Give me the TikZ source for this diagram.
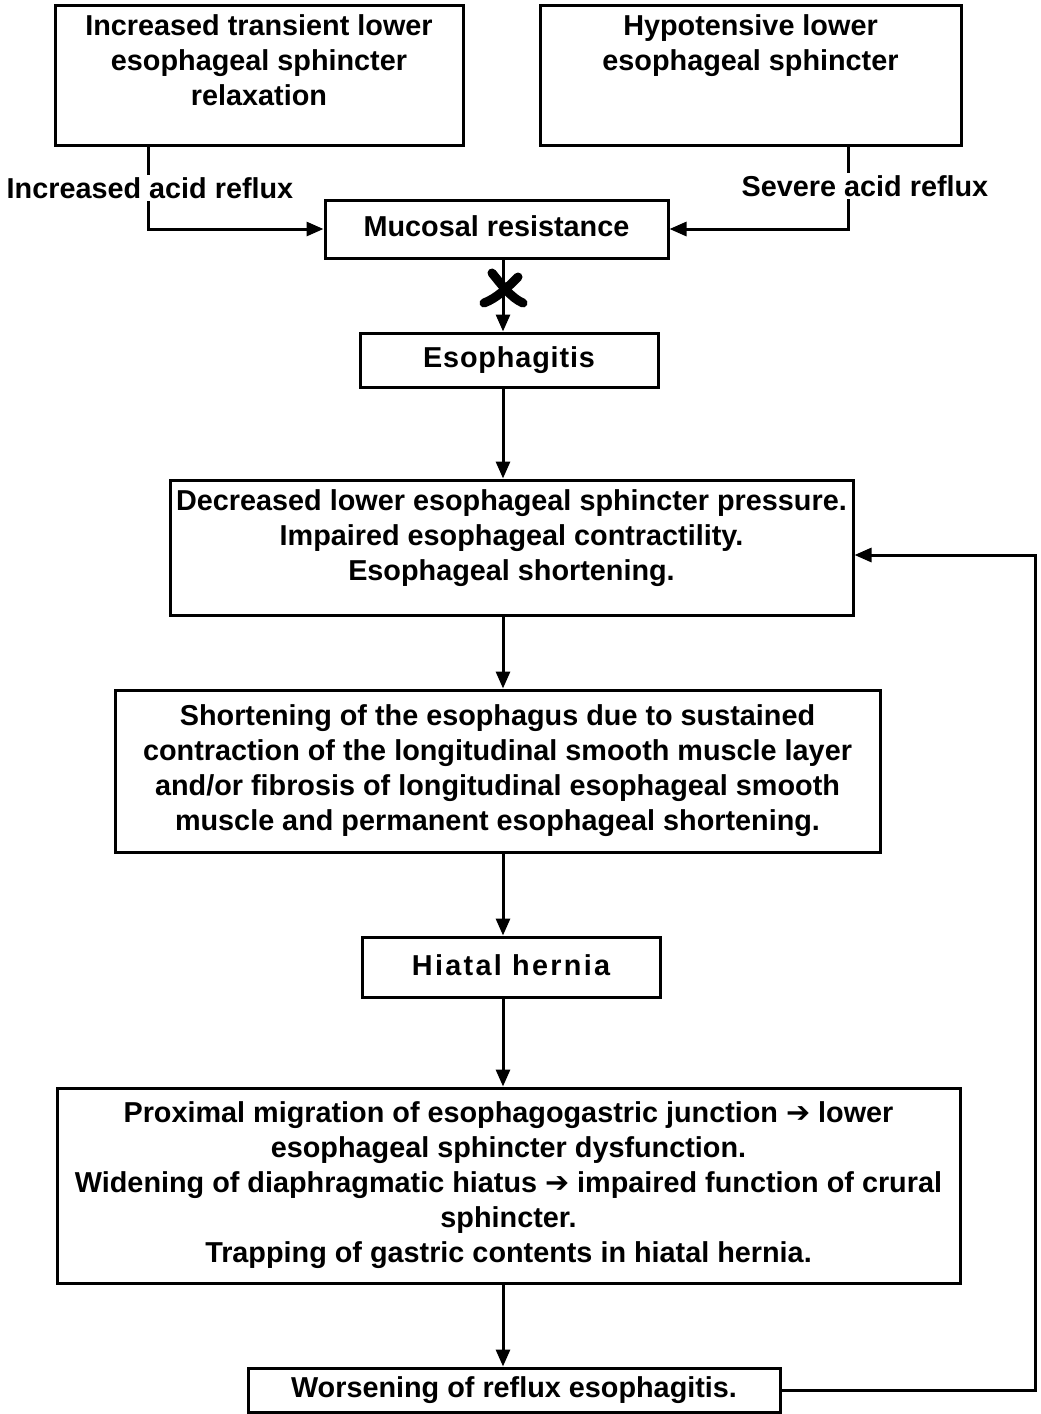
\documentclass[tikz,border=0pt]{standalone}
\usepackage{fontspec}
\setmainfont{Liberation Sans}
\newfontfamily\arrowfont{DejaVu Sans}
\newfontfamily\spacedfont[LetterSpace=3]{Liberation Sans}
\newfontfamily\widefont[LetterSpace=8]{Liberation Sans}
\usetikzlibrary{arrows.meta}
\begin{document}
\begin{tikzpicture}[x=0.5pt,y=-0.5pt,
  font=\bfseries\fontsize{14.4}{17.5}\selectfont,
  box/.style={draw,line width=1.5pt,align=center,inner sep=0pt},
  toptext/.style={anchor=north,align=center,inner xsep=0pt,inner ysep=5.5pt},
  tag/.style={fill=white,inner sep=1pt},
  flow/.style={line width=1.5pt,-{Triangle[length=8.5pt,width=7pt]}},
  xmark/.style={line width=4.5pt,line cap=round}]
\useasboundingbox (0,0) rectangle (1040,1414);
% boxes, top to bottom
\node[box,minimum width=204pt,minimum height=70pt,
  label={[toptext]north:{Increased transient lower\\esophageal sphincter\\relaxation}}] (trelax) at (259,75) {};
\node[box,minimum width=210.5pt,minimum height=70pt,
  label={[toptext]north:{Hypotensive lower\\esophageal sphincter}}] (hypo) at (750.5,75) {};
\node[box,minimum width=171.5pt,minimum height=29pt] (mucosa) at (496.5,229) {\raisebox{2.5pt}{Mucosal resistance}};
\node[box,minimum width=149pt,minimum height=27pt] (esoph) at (509,360) {\raisebox{1.5pt}{\spacedfont Esophagitis}};
\node[box,minimum width=341.5pt,minimum height=67.5pt,
  label={[toptext]north:{Decreased lower esophageal sphincter pressure.\\Impaired esophageal contractility.\\Esophageal shortening.}}] (lespress) at (511.5,547.5) {};
\node[box,minimum width=382.5pt,minimum height=81pt] (shorten) at (497.5,771) {Shortening of the esophagus due to sustained\\contraction of the longitudinal smooth muscle layer\\and/or fibrosis of longitudinal esophageal smooth\\muscle and permanent esophageal shortening.};
\node[box,minimum width=149pt,minimum height=30pt] (hernia) at (511,967) {\raisebox{2pt}{\widefont Hiatal hernia}};
\node[box,minimum width=451.5pt,minimum height=97.5pt] (junction) at (508.5,1185.5) {Proximal migration of esophagogastric junction {\arrowfont ➔} lower\\esophageal sphincter dysfunction.\\Widening of diaphragmatic hiatus {\arrowfont ➔} impaired function of crural\\sphincter.\\Trapping of gastric contents in hiatal hernia.};
\node[box,minimum width=266pt,minimum height=22pt] (worse) at (514,1390) {Worsening of reflux esophagitis.};
% taps and turning points
\coordinate (spine) at (503,0);
\coordinate (ltap) at (148,0);
\coordinate (rtap) at (848,0);
\coordinate (back) at (1035,555);
\coordinate (cut) at (503,290);
\draw[flow] (trelax.south -| ltap) |- (mucosa.west);
\draw[flow] (hypo.south -| rtap) |- (mucosa.east);
\draw[flow] (mucosa.south -| spine) -- (esoph.north -| spine);
\foreach \a/\b in {esoph/lespress,lespress/shorten,shorten/hernia,hernia/junction,junction/worse}
  \draw[flow] (\a.south -| spine) -- (\b.north -| spine);
\draw[flow] (worse.east) -| (back) -- (lespress.east |- back);
\node[tag] (acidup) at (150,188) {Increased acid reflux};
\node[tag] (acidsev) at (865,186) {Severe acid reflux};
% blocked step
\draw[xmark] ([shift={(-11,-17)}]cut) .. controls ([shift={(-2,-6)}]cut) and ([shift={(8,8)}]cut) .. ([shift={(20,13)}]cut);
\draw[xmark] ([shift={(15,-13)}]cut) .. controls ([shift={(4,-2)}]cut) and ([shift={(-6,8)}]cut) .. ([shift={(-19,13)}]cut);
\end{tikzpicture}
\end{document}
